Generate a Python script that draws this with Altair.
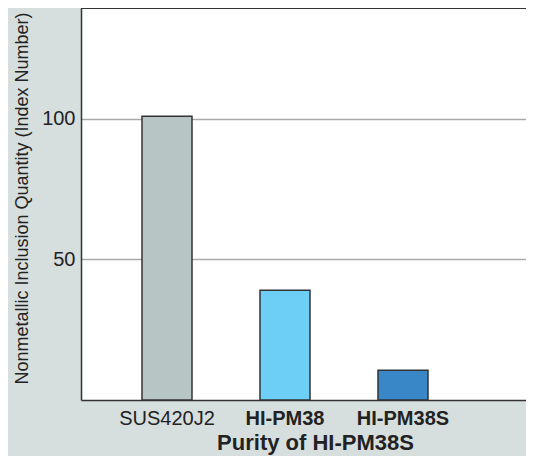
import altair as alt
import pandas as pd

categories = ["SUS420J2", "HI-PM38", "HI-PM38S"]
values = [100.8, 39.0, 10.6]
bar_colors = ["#b7c5c4", "#6dcff6", "#3a87c8"]
y_ticks = [50, 100]

df = pd.DataFrame({"material": categories, "index": values})

PLOT_W = 445
PLOT_H = 392
FONT = "Liberation Sans"

bars = alt.Chart(df).mark_bar(width=50, stroke="#333333", strokeWidth=1.5).encode(
    x=alt.X(
        "material:N",
        sort=categories,
        scale=alt.Scale(domain=categories, paddingInner=0, paddingOuter=0.3856, align=0.2967),
        axis=alt.Axis(
            title="Purity of HI-PM38S",
            labelAngle=0,
            labelFont=FONT,
            labelFontSize=20,
            labelColor="#222222",
            labelPadding=8,
            labelFontWeight=alt.expr("datum.value == 'SUS420J2' ? 'normal' : 'bold'"),
            ticks=False,
            domain=True,
            domainColor="#333333",
            domainWidth=1.5,
            titleFont=FONT,
            titleFontSize=22,
            titleFontWeight="bold",
            titleColor="#222222",
            titleX=234,
            titleY=49,
            titleAlign="center",
            titleBaseline="alphabetic",
        ),
    ),
    y=alt.Y(
        "index:Q",
        scale=alt.Scale(domain=[0, 139.3], nice=False, zero=True),
        axis=alt.Axis(
            title="Nonmetallic Inclusion Quantity (Index Number)",
            values=y_ticks,
            labelFont=FONT,
            labelFontSize=20,
            labelColor="#222222",
            labelPadding=6,
            ticks=False,
            domain=True,
            domainColor="#333333",
            domainWidth=1.5,
            grid=True,
            gridColor="#aaaaaa",
            gridWidth=1.5,
            titleFont=FONT,
            titleFontSize=18,
            titleFontWeight="normal",
            titleColor="#222222",
            titleAngle=-90,
            titleX=-59,
            titleY=190,
            titleAlign="center",
            titleBaseline="middle",
        ),
    ),
    color=alt.Color("material:N", scale=alt.Scale(domain=categories, range=bar_colors), legend=None),
)

top_border = alt.Chart(df).mark_rule(color="#333333", strokeWidth=1.5).encode(
    x=alt.value(0), x2=alt.value(PLOT_W), y=alt.value(0)
)

chart = alt.layer(bars, top_border).properties(
    width=PLOT_W,
    height=PLOT_H,
    autosize=alt.AutoSizeParams(type="none"),
    padding={"left": 73, "top": 0, "right": 0, "bottom": 56},
    background="#d6dfde",
).configure_view(fill="white", stroke="transparent")

chart.save("out.html", embed_options={"renderer": "svg", "actions": False})
